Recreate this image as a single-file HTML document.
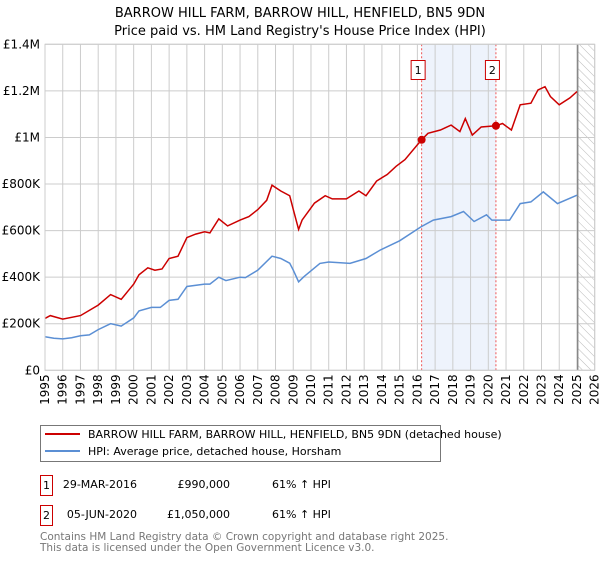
<!DOCTYPE html>
<html><head><meta charset="utf-8"><style>
body{margin:0;background:#fff;font-family:"DejaVu Sans","Liberation Sans",sans-serif;}
svg text{font-family:"DejaVu Sans","Liberation Sans",sans-serif;}
</style></head><body>
<svg id="chart" width="600" height="560" viewBox="0 0 600 560" xmlns="http://www.w3.org/2000/svg">
<defs><pattern id="hatch" width="6" height="6" patternUnits="userSpaceOnUse" patternTransform="rotate(-45)"><line x1="0" y1="0" x2="0" y2="6" stroke="#bbb" stroke-width="1"/></pattern></defs>
<text x="300" y="17" text-anchor="middle" font-size="13">BARROW HILL FARM, BARROW HILL, HENFIELD, BN5 9DN</text>
<text x="300" y="35" text-anchor="middle" font-size="13">Price paid vs. HM Land Registry's House Price Index (HPI)</text>
<g id="plot"></g>
<g>
<rect x="40.5" y="425.5" width="400" height="36" fill="#fff" stroke="#777"/>
<line x1="45" y1="434" x2="80" y2="434" stroke="#cc0000" stroke-width="2"/>
<text x="88" y="438" font-size="11">BARROW HILL FARM, BARROW HILL, HENFIELD, BN5 9DN (detached house)</text>
<line x1="45" y1="451" x2="80" y2="451" stroke="#5b8fd4" stroke-width="2"/>
<text x="88" y="455" font-size="11">HPI: Average price, detached house, Horsham</text>
</g>
<g font-size="11">
<rect x="40.5" y="475.5" width="12" height="20" fill="#fff" stroke="#cc0000"/>
<text x="46.5" y="489" text-anchor="middle">1</text>
<text x="137" y="488" text-anchor="end">29-MAR-2016</text>
<text x="230" y="488" text-anchor="end">£990,000</text>
<text x="272" y="488">61% ↑ HPI</text>
<rect x="40.5" y="505.5" width="12" height="20" fill="#fff" stroke="#cc0000"/>
<text x="46.5" y="519" text-anchor="middle">2</text>
<text x="137" y="518" text-anchor="end">05-JUN-2020</text>
<text x="230" y="518" text-anchor="end">£1,050,000</text>
<text x="272" y="518">61% ↑ HPI</text>
</g>
<text x="40" y="540" font-size="10.5" fill="#777">Contains HM Land Registry data © Crown copyright and database right 2025.</text>
<text x="40" y="551" font-size="10.5" fill="#777">This data is licensed under the Open Government Licence v3.0.</text>
</svg>
<script>
const hpiYears=[1995,1995.5,1996,1996.5,1997,1997.5,1998,1998.7,1999.3,2000,2000.3,2001,2001.5,2002,2002.5,2003,2004,2004.3,2004.8,2005.2,2006,2006.3,2007,2007.8,2008.3,2008.8,2009,2009.3,2009.6,2010.5,2011,2012.2,2013.1,2013.9,2015,2016.2,2016.9,2017.9,2018.6,2019.2,2019.9,2020.2,2021.2,2021.8,2022.4,2023.1,2023.9,2025];
const hpiValues=[144000,138000,135000,140000,148000,152000,175000,200000,190000,225000,255000,270000,270000,300000,305000,360000,370000,370000,400000,385000,400000,398000,430000,490000,480000,460000,430000,380000,402000,459000,465000,459000,480000,516000,556000,616000,645000,660000,682000,639000,668000,645000,645000,716000,723000,766000,716000,752000];
const priceYears=[1995,1995.3,1996,1997,1998,1998.7,1999.3,2000,2000.3,2000.8,2001.2,2001.6,2002,2002.5,2003,2003.5,2004,2004.3,2004.8,2005.3,2006,2006.5,2007,2007.5,2007.8,2008.3,2008.8,2009,2009.3,2009.5,2010.2,2010.8,2011.2,2012,2012.7,2013.1,2013.7,2014.3,2014.8,2015.3,2016.24,2016.6,2017.3,2017.9,2018.4,2018.7,2019.1,2019.6,2020.43,2020.8,2021.3,2021.8,2022.4,2022.8,2023.2,2023.5,2024,2024.6,2025];
const priceValues=[223000,235000,220000,235000,280000,325000,305000,370000,410000,440000,430000,435000,480000,490000,570000,585000,595000,590000,650000,620000,645000,660000,690000,730000,795000,770000,750000,690000,605000,645000,718000,750000,736000,736000,770000,750000,813000,841000,876000,905000,990000,1018000,1032000,1053000,1025000,1081000,1010000,1045000,1050000,1060000,1032000,1140000,1147000,1204000,1218000,1176000,1140000,1170000,1197000];
const saleYears=[2016.24,2020.43];
const saleValues=[990000,1050000];
const saleLabels=['1','2'];
const yTicks=[0,200000,400000,600000,800000,1000000,1200000,1400000];
const yTickLabels=['£0','£200K','£400K','£600K','£800K','£1M','£1.2M','£1.4M'];
const xTicks=[1995,1996,1997,1998,1999,2000,2001,2002,2003,2004,2005,2006,2007,2008,2009,2010,2011,2012,2013,2014,2015,2016,2017,2018,2019,2020,2021,2022,2023,2024,2025,2026];
const X0=45,X1=594.7,Y0=370.3,Y1=44.3;
const xs=y=>X0+(y-1995)/31*(X1-X0);
const ys=v=>Y0-v/1400000*(Y0-Y1);
const NS='http://www.w3.org/2000/svg';
const g=document.getElementById('plot');
function mk(t,a){const e=document.createElementNS(NS,t);for(const k in a)e.setAttribute(k,a[k]);g.appendChild(e);return e;}
let e=mk('rect',{x:xs(saleYears[0]),y:Y1,width:xs(saleYears[1])-xs(saleYears[0]),height:Y0-Y1,fill:'#eef3fc'});


e=mk('rect',{x:xs(2025.04),y:Y1,width:X1-xs(2025.04),height:Y0-Y1,fill:'url(#hatch)'});


yTicks.forEach((t,i)=>{
 e=mk('line',{x1:X0,x2:X1,y1:ys(t),y2:ys(t),stroke:'#ccc','stroke-width':1});
 
 
 e=mk('text',{x:X0-5,y:ys(t)+4,'text-anchor':'end','font-size':12});
 e.textContent=yTickLabels[i];
 
 
});
xTicks.forEach(t=>{
 e=mk('line',{x1:xs(t),x2:xs(t),y1:Y1,y2:Y0,stroke:'#ccc','stroke-width':1});
 
 
 e=mk('text',{x:0,y:0,'text-anchor':'end','font-size':12,transform:`translate(${xs(t)+4},${Y0+4}) rotate(-90)`});
 e.textContent=t;
 
 
});
e=mk('line',{x1:xs(2025.04),x2:xs(2025.04),y1:Y1,y2:Y0,stroke:'#888','stroke-width':1.5});


saleYears.forEach((s,i)=>{
 e=mk('line',{x1:xs(s),x2:xs(s),y1:Y1,y2:Y0,stroke:'#e55','stroke-width':1,'stroke-dasharray':'2,2'});
 
 
});
const pts=(xa,va)=>xa.map((x,i)=>xs(x).toFixed(1)+','+ys(va[i]).toFixed(1)).join(' ');
e=mk('polyline',{points:pts(hpiYears,hpiValues),fill:'none',stroke:'#5b8fd4','stroke-width':1.5});


e=mk('polyline',{points:pts(priceYears,priceValues),fill:'none',stroke:'#cc0000','stroke-width':1.5});


saleYears.forEach((s,i)=>{
 e=mk('circle',{cx:xs(s),cy:ys(saleValues[i]),r:4,fill:'#cc0000'});
 
 
 e=mk('rect',{x:xs(s)-10.5,y:60.5,width:14,height:19,fill:'#fff',stroke:'#cc0000'});
 
 
 e=mk('text',{x:xs(s)-3.5,y:74,'text-anchor':'middle','font-size':11});
 e.textContent=saleLabels[i];
 
 
});
e=mk('rect',{x:X0,y:Y1,width:X1-X0,height:Y0-Y1,fill:'none',stroke:'#ccc'});


</script>
</body></html>
